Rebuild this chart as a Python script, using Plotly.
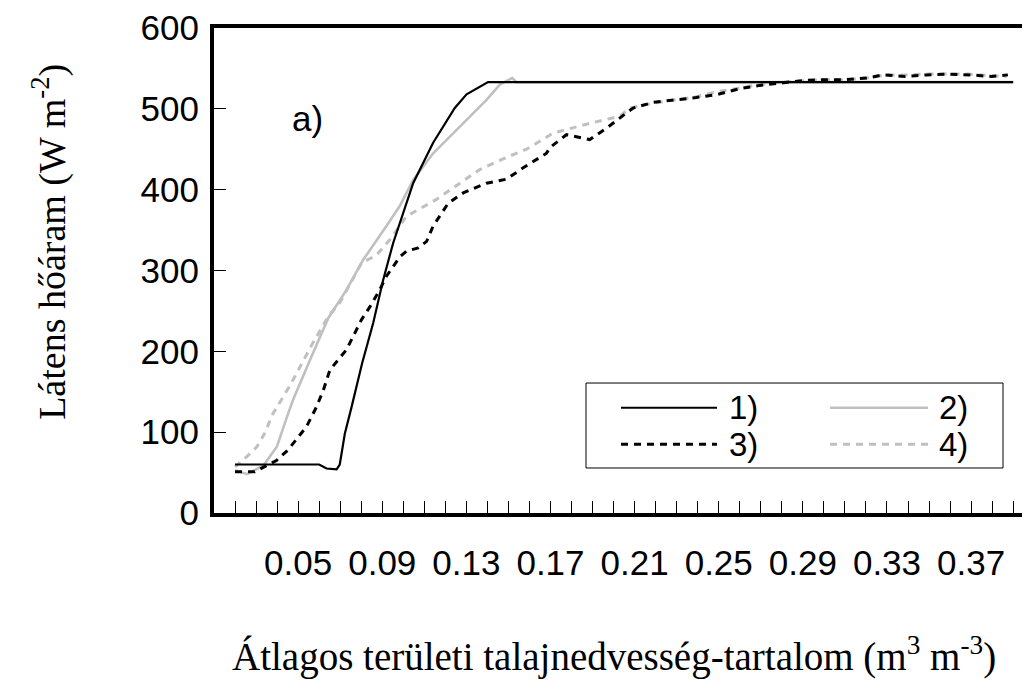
import plotly.graph_objects as go

# ---------------- data ----------------
x1 = [0.020, 0.060, 0.0635, 0.0683, 0.0698, 0.0722, 0.0754, 0.0804, 0.0857, 0.0904,
      0.0952, 0.1015, 0.1047, 0.1142, 0.1245, 0.1301, 0.1396, 0.1403, 0.390]
y1 = [60, 60, 55, 54, 60, 98, 131, 185, 235, 288,
      334, 385, 408, 458, 501, 518, 531, 533, 533]

x2 = [0.020, 0.0257, 0.0336, 0.0399, 0.0447, 0.0476, 0.0556, 0.0643, 0.0730, 0.0809,
      0.0920, 0.0984, 0.1047, 0.1142, 0.1269, 0.1396, 0.1459, 0.1518, 0.1539, 0.390]
y2 = [53, 48, 59, 82, 119, 140, 189, 241, 276, 313,
      355, 380, 412, 445, 478, 511, 530, 538, 533, 533]

x3 = [0.020, 0.0294, 0.0397, 0.0452, 0.0540, 0.0587, 0.0620, 0.0651, 0.0730, 0.0770,
      0.0801, 0.0841, 0.0888, 0.0920, 0.0984, 0.1015, 0.1071, 0.1111, 0.1142, 0.1213,
      0.1285, 0.1396, 0.1491, 0.1570, 0.1681, 0.1697, 0.1776, 0.1887, 0.1966, 0.2062,
      0.2093, 0.2188, 0.2299, 0.2394, 0.2497, 0.2600, 0.2695, 0.2790, 0.2901, 0.2996,
      0.3100, 0.3203, 0.3282, 0.3385, 0.3488, 0.3591, 0.3694, 0.3797, 0.3875]
y3 = [51, 51, 65, 78, 107, 131, 152, 177, 202, 224,
      239, 255, 276, 293, 317, 324, 328, 336, 355, 383,
      396, 408, 413, 427, 445, 452, 468, 462, 476, 495,
      501, 508, 511, 514, 518, 525, 529, 532, 535, 536,
      536, 538, 542, 540, 542, 543, 542, 540, 542]

x4 = [0.020, 0.0257, 0.0304, 0.0344, 0.0376, 0.0462, 0.0565, 0.0643, 0.0698, 0.0801,
      0.0872, 0.0936, 0.1015, 0.1158, 0.1269, 0.1364, 0.1491, 0.1586, 0.1713, 0.1871,
      0.2030, 0.2077, 0.2188, 0.2299, 0.2394, 0.2490, 0.2600, 0.2695, 0.2790, 0.2886,
      0.2996, 0.3100, 0.3203, 0.3290, 0.3375, 0.3480, 0.3583, 0.3686, 0.3789, 0.3869]
y4 = [57, 70, 82, 100, 121, 158, 208, 243, 260, 309,
      319, 338, 367, 388, 408, 425, 440, 450, 470, 481,
      491, 501, 507, 511, 515, 521, 526, 530, 533, 534,
      536, 536, 538, 542, 542, 543, 543, 543, 541, 540]

series_names = ["1)", "2)", "3)", "4)"]
x_tick_vals = [0.05, 0.09, 0.13, 0.17, 0.21, 0.25, 0.29, 0.33, 0.37]
x_tick_text = ["0.05", "0.09", "0.13", "0.17", "0.21", "0.25", "0.29", "0.33", "0.37"]
y_tick_vals = [0, 100, 200, 300, 400, 500, 600]

# ---------------- styles ----------------
BLACK = "#000000"
GRAY = "#c0c0c0"
SANS = "Arial, Liberation Sans, sans-serif"
SERIF = "Times New Roman, Liberation Serif, serif"
styles = [
    dict(color=BLACK, width=2.2, dash="solid"),
    dict(color=GRAY, width=2.6, dash="solid"),
    dict(color=BLACK, width=3, dash="7px,6px"),
    dict(color=GRAY, width=3, dash="7px,6px"),
]

fig = go.Figure()
# draw order: gray solid behind black solid
for xs, ys, idx in [(x2, y2, 1), (x4, y4, 3), (x3, y3, 2), (x1, y1, 0)]:
    fig.add_trace(go.Scatter(x=xs, y=ys, mode="lines", name=series_names[idx],
                             line=styles[idx], showlegend=False))

fig.update_layout(
    width=1026, height=690,
    margin=dict(l=214, r=4, t=28, b=177),
    paper_bgcolor="white", plot_bgcolor="white",
    font=dict(family=SANS, size=35, color="black"),
)
fig.update_xaxes(
    range=[0.01, 0.3942], showgrid=False, zeroline=False,
    showline=True, linewidth=4, linecolor="black", mirror=True,
    ticks="inside", ticklen=12, tickwidth=1, tickcolor="black",
    tickvals=x_tick_vals, ticktext=x_tick_text,
    tickfont=dict(family=SANS, size=35), ticklabelstandoff=16,
    minor=dict(tickmode="linear", tick0=0.01, dtick=0.01, ticks="inside",
               ticklen=12, tickwidth=1, tickcolor="black", showgrid=False),
)
fig.update_yaxes(
    range=[0, 600], showgrid=False, zeroline=False,
    showline=True, linewidth=4, linecolor="black",
    ticks="inside", ticklen=12, tickwidth=1, tickcolor="black",
    tickvals=y_tick_vals, tickfont=dict(family=SANS, size=35),
    ticklabelstandoff=4,
)

# axis titles
fig.add_annotation(text="Látens hőáram (W m<sup>-2</sup>)", xref="paper", yref="paper",
                   x=-0.203, y=0.559, textangle=-90, showarrow=False,
                   font=dict(family=SERIF, size=38), xanchor="center", yanchor="middle")
fig.add_annotation(text="Átlagos területi talajnedvesség-tartalom (m<sup>3</sup> m<sup>-3</sup>)",
                   xref="paper", yref="paper", x=0.495, y=-0.292, showarrow=False,
                   font=dict(family=SERIF, size=39), xanchor="center", yanchor="middle")
fig.add_annotation(text="a)", xref="paper", yref="paper", x=0.1163, y=0.8144,
                   showarrow=False, font=dict(family=SANS, size=35),
                   xanchor="center", yanchor="middle")

# custom legend box
fig.add_shape(type="rect", xref="paper", yref="paper", x0=0.4604, x1=0.9765,
              y0=0.0928, y1=0.268, line=dict(color="black", width=1), fillcolor="white",
              layer="above")
leg_pos = [(0.5037, 0.6225, 0.6349, 0.2170), (0.7624, 0.8837, 0.8948, 0.2170),
           (0.5037, 0.6225, 0.6349, 0.1420), (0.7624, 0.8837, 0.8948, 0.1420)]
for (sx0, sx1, tx, ly), name, st in zip(leg_pos, series_names, styles):
    fig.add_shape(type="line", xref="paper", yref="paper", x0=sx0, x1=sx1, y0=ly, y1=ly,
                  line=dict(color=st["color"], width=st["width"], dash=st["dash"]),
                  layer="above")
    fig.add_annotation(text=name, xref="paper", yref="paper", x=tx, y=ly,
                       showarrow=False, xanchor="left", yanchor="middle",
                       font=dict(family=SANS, size=33))

fig.write_html("out.html")
